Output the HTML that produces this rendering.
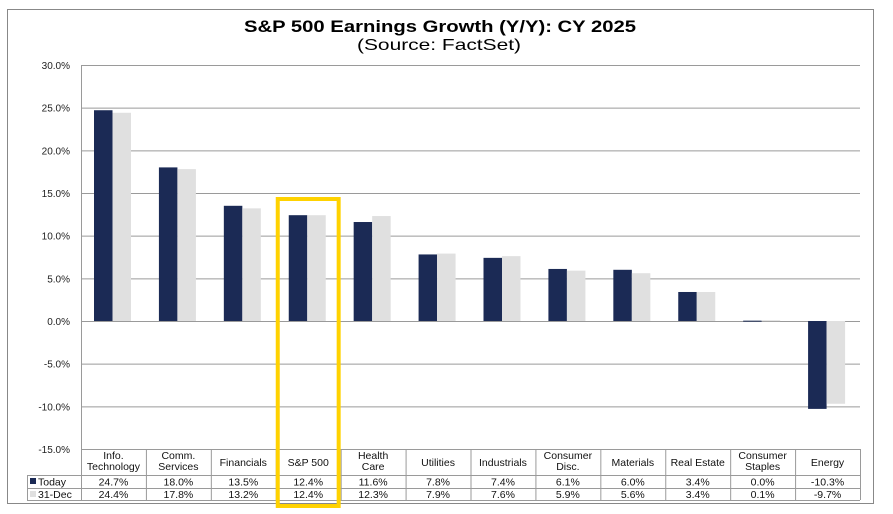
<!DOCTYPE html>
<html><head><meta charset="utf-8"><style>
body{margin:0;background:#fff;font-family:"Liberation Sans",Arial,sans-serif}
svg text{font-family:"Liberation Sans",Arial,sans-serif}
</style></head><body>
<svg id="c" width="893" height="509" xmlns="http://www.w3.org/2000/svg">
<rect x="7.5" y="9.5" width="866" height="494" fill="#fff" stroke="#888"/>
<text x="440" y="32" text-anchor="middle" font-size="17" font-weight="bold" fill="#000" textLength="392" lengthAdjust="spacingAndGlyphs">S&amp;P 500 Earnings Growth (Y/Y): CY 2025</text>
<text x="439" y="50" text-anchor="middle" font-size="16" fill="#000" textLength="164" lengthAdjust="spacingAndGlyphs">(Source: FactSet)</text>
<g id="g"></g>
</svg>
<script>
const categories=[["Info.","Technology"],["Comm.","Services"],["Financials"],["S&P 500"],["Health","Care"],["Utilities"],["Industrials"],["Consumer","Disc."],["Materials"],["Real Estate"],["Consumer","Staples"],["Energy"]];
const today=[24.7,18.0,13.5,12.4,11.6,7.8,7.4,6.1,6.0,3.4,0.04,-10.3];
const dec31=[24.4,17.8,13.2,12.4,12.3,7.9,7.6,5.9,5.6,3.4,0.1,-9.7];
const todayLabels=["24.7%","18.0%","13.5%","12.4%","11.6%","7.8%","7.4%","6.1%","6.0%","3.4%","0.0%","-10.3%"];
const decLabels=["24.4%","17.8%","13.2%","12.4%","12.3%","7.9%","7.6%","5.9%","5.6%","3.4%","0.1%","-9.7%"];
const ticks=[30,25,20,15,10,5,0,-5,-10,-15];
const tickLabels=["30.0%","25.0%","20.0%","15.0%","10.0%","5.0%","0.0%","-5.0%","-10.0%","-15.0%"];
const highlightIndex=3;
const NS="http://www.w3.org/2000/svg",g=document.getElementById('g');
const X0=81,X1=860,yTop=65,yBot=449,vMax=30,vMin=-15;
const y=v=>yTop+(vMax-v)/(vMax-vMin)*(yBot-yTop);
const cw=(X1-X0)/categories.length;
const cx=i=>X0+i*cw;
function mk(t,a,txt){const e=document.createElementNS(NS,t);for(const k in a)e.setAttribute(k,a[k]);if(txt!==undefined)e.textContent=txt;g.appendChild(e);return e;}
ticks.forEach((t,i)=>{
 const l=mk('line',{x1:X0,x2:X1,y1:y(t)+.5,y2:y(t)+.5,stroke:'#9a9a9a','stroke-width':1});
 
 
 const tx=mk('text',{x:70,y:y(t)+4,'text-anchor':'end','font-size':10,fill:'#222'},tickLabels[i]);
 
 
});
const ax=mk('line',{x1:X0+.5,x2:X0+.5,y1:yTop,y2:500,stroke:'#9a9a9a'});


const bw=18.5;
categories.forEach((c,i)=>{
 const s=cx(i)+13;
 const b1=mk('rect',{x:s,y:Math.min(y(today[i]),y(0)),width:bw,height:Math.max(Math.abs(y(today[i])-y(0)),1),fill:'#1b2a55'});
 
 
 const b2=mk('rect',{x:s+bw,y:Math.min(y(dec31[i]),y(0)),width:bw,height:Math.max(Math.abs(y(dec31[i])-y(0)),1),fill:'#e0e0e0'});
 
 
});
const rT=449,rH=475,rM=488,rB=500;
[rT,rH,rM,rB].forEach(r=>{const l=mk('line',{x1:r===rT?X0:27,x2:X1,y1:r+.5,y2:r+.5,stroke:'#9a9a9a'});
 
 });
const lv=mk('line',{x1:27.5,x2:27.5,y1:rH,y2:rB,stroke:'#9a9a9a'});


for(let i=1;i<=categories.length;i++){const l=mk('line',{x1:cx(i)+.5,x2:cx(i)+.5,y1:rT,y2:rB,stroke:'#9a9a9a'});
 
 }
categories.forEach((c,i)=>{
 const m=cx(i)+cw/2;
 c.forEach((ln,j)=>{const t=mk('text',{x:m,y:c.length===2?459+j*11:466,'text-anchor':'middle','font-size':10.5,fill:'#111'},ln);
  
  });
 const a=mk('text',{x:m,y:485.5,'text-anchor':'middle','font-size':10.5,fill:'#111'},todayLabels[i]);
 
 
 const b=mk('text',{x:m,y:498,'text-anchor':'middle','font-size':10.5,fill:'#111'},decLabels[i]);
 
 
});
const k1=mk('rect',{x:30,y:478,width:6,height:6,fill:'#1b2a55'});


const t1=mk('text',{x:38,y:485.5,'font-size':10.5,fill:'#111'},'Today');


const k2=mk('rect',{x:30,y:491,width:6,height:6,fill:'#e0e0e0'});


const t2=mk('text',{x:38,y:498,'font-size':10.5,fill:'#111'},'31-Dec');


const hb=mk('rect',{x:cx(highlightIndex)+2,y:199,width:cw-4,height:307,fill:'none',stroke:'#ffd200','stroke-width':4});


</script>
</body></html>
